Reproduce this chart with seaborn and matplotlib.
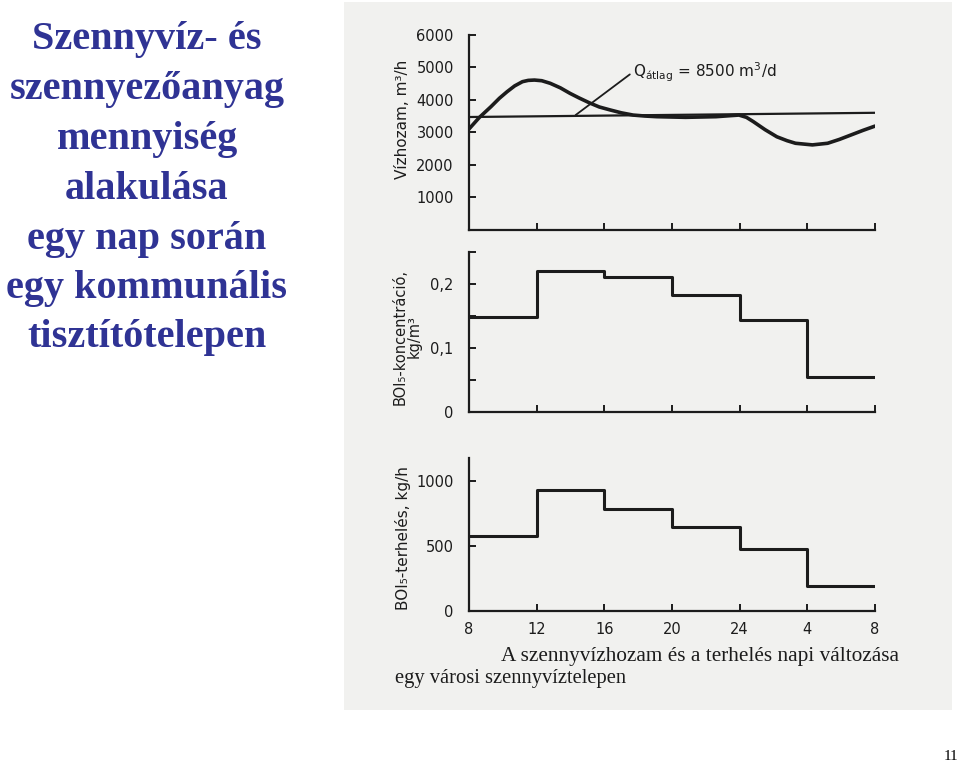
import matplotlib
matplotlib.use("Agg")
import matplotlib.pyplot as plt
import seaborn as sns
import pandas as pd
from matplotlib.patches import Rectangle

# ---------------- data ----------------
title_lines = ["Szennyvíz- és", "szennyezőanyag", "mennyiség", "alakulása",
               "egy nap során", "egy kommunális", "tisztítótelepen"]

hour_ticks = [0, 4, 8, 12, 16, 20, 24]
hour_labels = ["8", "12", "16", "20", "24", "4", "8"]

# Vízhozam curve (m3/h)
flow_hours = [0, 0.6, 1.3, 1.8, 2.25, 2.7, 3.16, 3.5, 3.87, 4.3, 4.8, 5.4, 5.97, 6.5, 7.15,
              7.7, 8.33, 9.0, 9.7, 10.4, 11.1, 12.8, 14.6, 15.4, 15.96, 16.4, 16.8, 17.5,
              18.2, 18.8, 19.3, 20.3, 21.2, 21.9, 22.6, 23.3, 24]
flow_values = [3100, 3450, 3790, 4050, 4250, 4430, 4560, 4600, 4610, 4590, 4510, 4370, 4200,
               4060, 3900, 3780, 3690, 3600, 3530, 3500, 3480, 3460, 3480, 3510, 3530, 3460,
               3330, 3080, 2860, 2740, 2660, 2610, 2660, 2780, 2920, 3060, 3190]

# average line (slightly tilted in the scan)
avg_hours = [0, 24]
avg_values = [3470, 3600]
avg_label = "Q$_{\\mathrm{átlag}}$ = 8500 m$^3$/d"

# BOI5 concentration (kg/m3) per 4-hour block
conc_values = [0.148, 0.220, 0.211, 0.183, 0.143, 0.054]
# BOI5 load (kg/h) per 4-hour block
load_values = [577, 931, 790, 648, 479, 192]

caption_1 = "A szennyvízhozam és a terhelés napi változása"
caption_2 = "egy városi szennyvíztelepen"
page_number = "11"

# ---------------- style ----------------
sns.set_theme(style="white")
plt.rcParams["font.family"] = ["DejaVu Sans"]
ink = "#1c1c1c"
title_color = "#2f3394"

fig = plt.figure(figsize=(9.6, 7.65), dpi=100)
fig.patch.set_facecolor("white")

# scanned-page background
bg = Rectangle((344 / 960, 1 - 710 / 765), (952 - 344) / 960, (710 - 2) / 765,
               transform=fig.transFigure, facecolor="#f1f1ef",
               edgecolor="none", zorder=-10)
fig.patches.append(bg)

# title
baselines = [49, 99, 149, 199, 249, 298, 347]
for line, yb in zip(title_lines, baselines):
    fig.text(147 / 960, 1 - yb / 765, line, ha="center", va="baseline",
             fontsize=29, fontweight="bold", family="Liberation Serif", color=title_color)

L, W = 469 / 960, 406 / 960
ax1 = fig.add_axes([L, 1 - 229.5 / 765, W, (229.5 - 35) / 765])
ax2 = fig.add_axes([L, 1 - 412 / 765, W, (412 - 252) / 765])
ax3 = fig.add_axes([L, 1 - 611 / 765, W, (611 - 458) / 765])
for a in (ax1, ax2, ax3):
    a.set_zorder(5)


def style_axis(ax):
    ax.set_facecolor("none")
    ax.patch.set_alpha(0)
    for s in ["top", "right"]:
        ax.spines[s].set_visible(False)
    for s in ["left", "bottom"]:
        ax.spines[s].set_color(ink)
        ax.spines[s].set_linewidth(1.6)
    ax.set_xlim(0, 24)
    ax.set_xticks(hour_ticks)
    ax.tick_params(axis="both", direction="in", length=5, width=1.4, colors=ink,
                   labelsize=10.5, labelcolor=ink, bottom=True, left=True)
    ax.tick_params(axis="y", pad=11)
    ax.tick_params(axis="x", pad=8)
    ax.grid(False)


# --- top: flow ---
df_flow = pd.DataFrame({"h": flow_hours, "q": flow_values})
df_avg = pd.DataFrame({"h": avg_hours, "q": avg_values})
sns.lineplot(data=df_flow, x="h", y="q", ax=ax1, color=ink, lw=2.6)
sns.lineplot(data=df_avg, x="h", y="q", ax=ax1, color=ink, lw=1.6)
style_axis(ax1)
ax1.set_ylim(0, 6000)
ax1.set_yticks([0, 1000, 2000, 3000, 4000, 5000, 6000])
ax1.set_yticklabels(["", "1000", "2000", "3000", "4000", "5000", "6000"])
ax1.set_xticklabels([])
ax1.set_xlabel("")
ax1.set_ylabel("Vízhozam, m³/h", fontsize=11, color=ink, va="center")
ax1.yaxis.set_label_coords(-0.163, 0.566)
ax1.annotate(avg_label, xy=(6.3, 3530), xytext=(9.7, 4860), fontsize=11, color=ink,
             ha="left", va="center",
             arrowprops=dict(arrowstyle="-", color=ink, lw=1.3, shrinkA=0, shrinkB=0,
                             relpos=(0, 0.5)))

# --- middle: concentration ---
df_conc = pd.DataFrame({"h": hour_ticks, "c": conc_values + [conc_values[-1]]})
sns.lineplot(data=df_conc, x="h", y="c", ax=ax2, color=ink, lw=2.2, drawstyle="steps-post")
style_axis(ax2)
ax2.set_ylim(0, 0.25)
ax2.set_yticks([0, 0.05, 0.1, 0.15, 0.2, 0.25])
ax2.set_yticklabels(["0", "", "0,1", "", "0,2", ""])
ax2.set_xticklabels([])
ax2.set_xlabel("")
ax2.set_ylabel("BOI₅-koncentráció,\nkg/m³", fontsize=10.5, color=ink, va="center",
               linespacing=0.9)
ax2.yaxis.set_label_coords(-0.152, 0.469)

# --- bottom: load ---
df_load = pd.DataFrame({"h": hour_ticks, "l": load_values + [load_values[-1]]})
sns.lineplot(data=df_load, x="h", y="l", ax=ax3, color=ink, lw=2.2, drawstyle="steps-post")
style_axis(ax3)
ax3.set_ylim(0, 1180)
ax3.set_yticks([0, 500, 1000])
ax3.set_yticklabels(["0", "500", "1000"])
ax3.set_xticklabels(hour_labels)
ax3.set_xlabel("")
ax3.set_ylabel("BOI₅-terhelés, kg/h", fontsize=11, color=ink, va="center")
ax3.yaxis.set_label_coords(-0.163, 0.477)

# caption
fig.text(501 / 960, 1 - 657 / 765, caption_1, ha="left", va="center", fontsize=15.3,
         family="Liberation Serif", color=ink)
fig.text(395 / 960, 1 - 678 / 765, caption_2, ha="left", va="center", fontsize=14.8,
         family="Liberation Serif", color=ink)

fig.text(958 / 960, 1 - 757 / 765, page_number, ha="right", va="center", fontsize=11,
         family="Liberation Serif", color="black")

fig.savefig("out.png", dpi=100)
